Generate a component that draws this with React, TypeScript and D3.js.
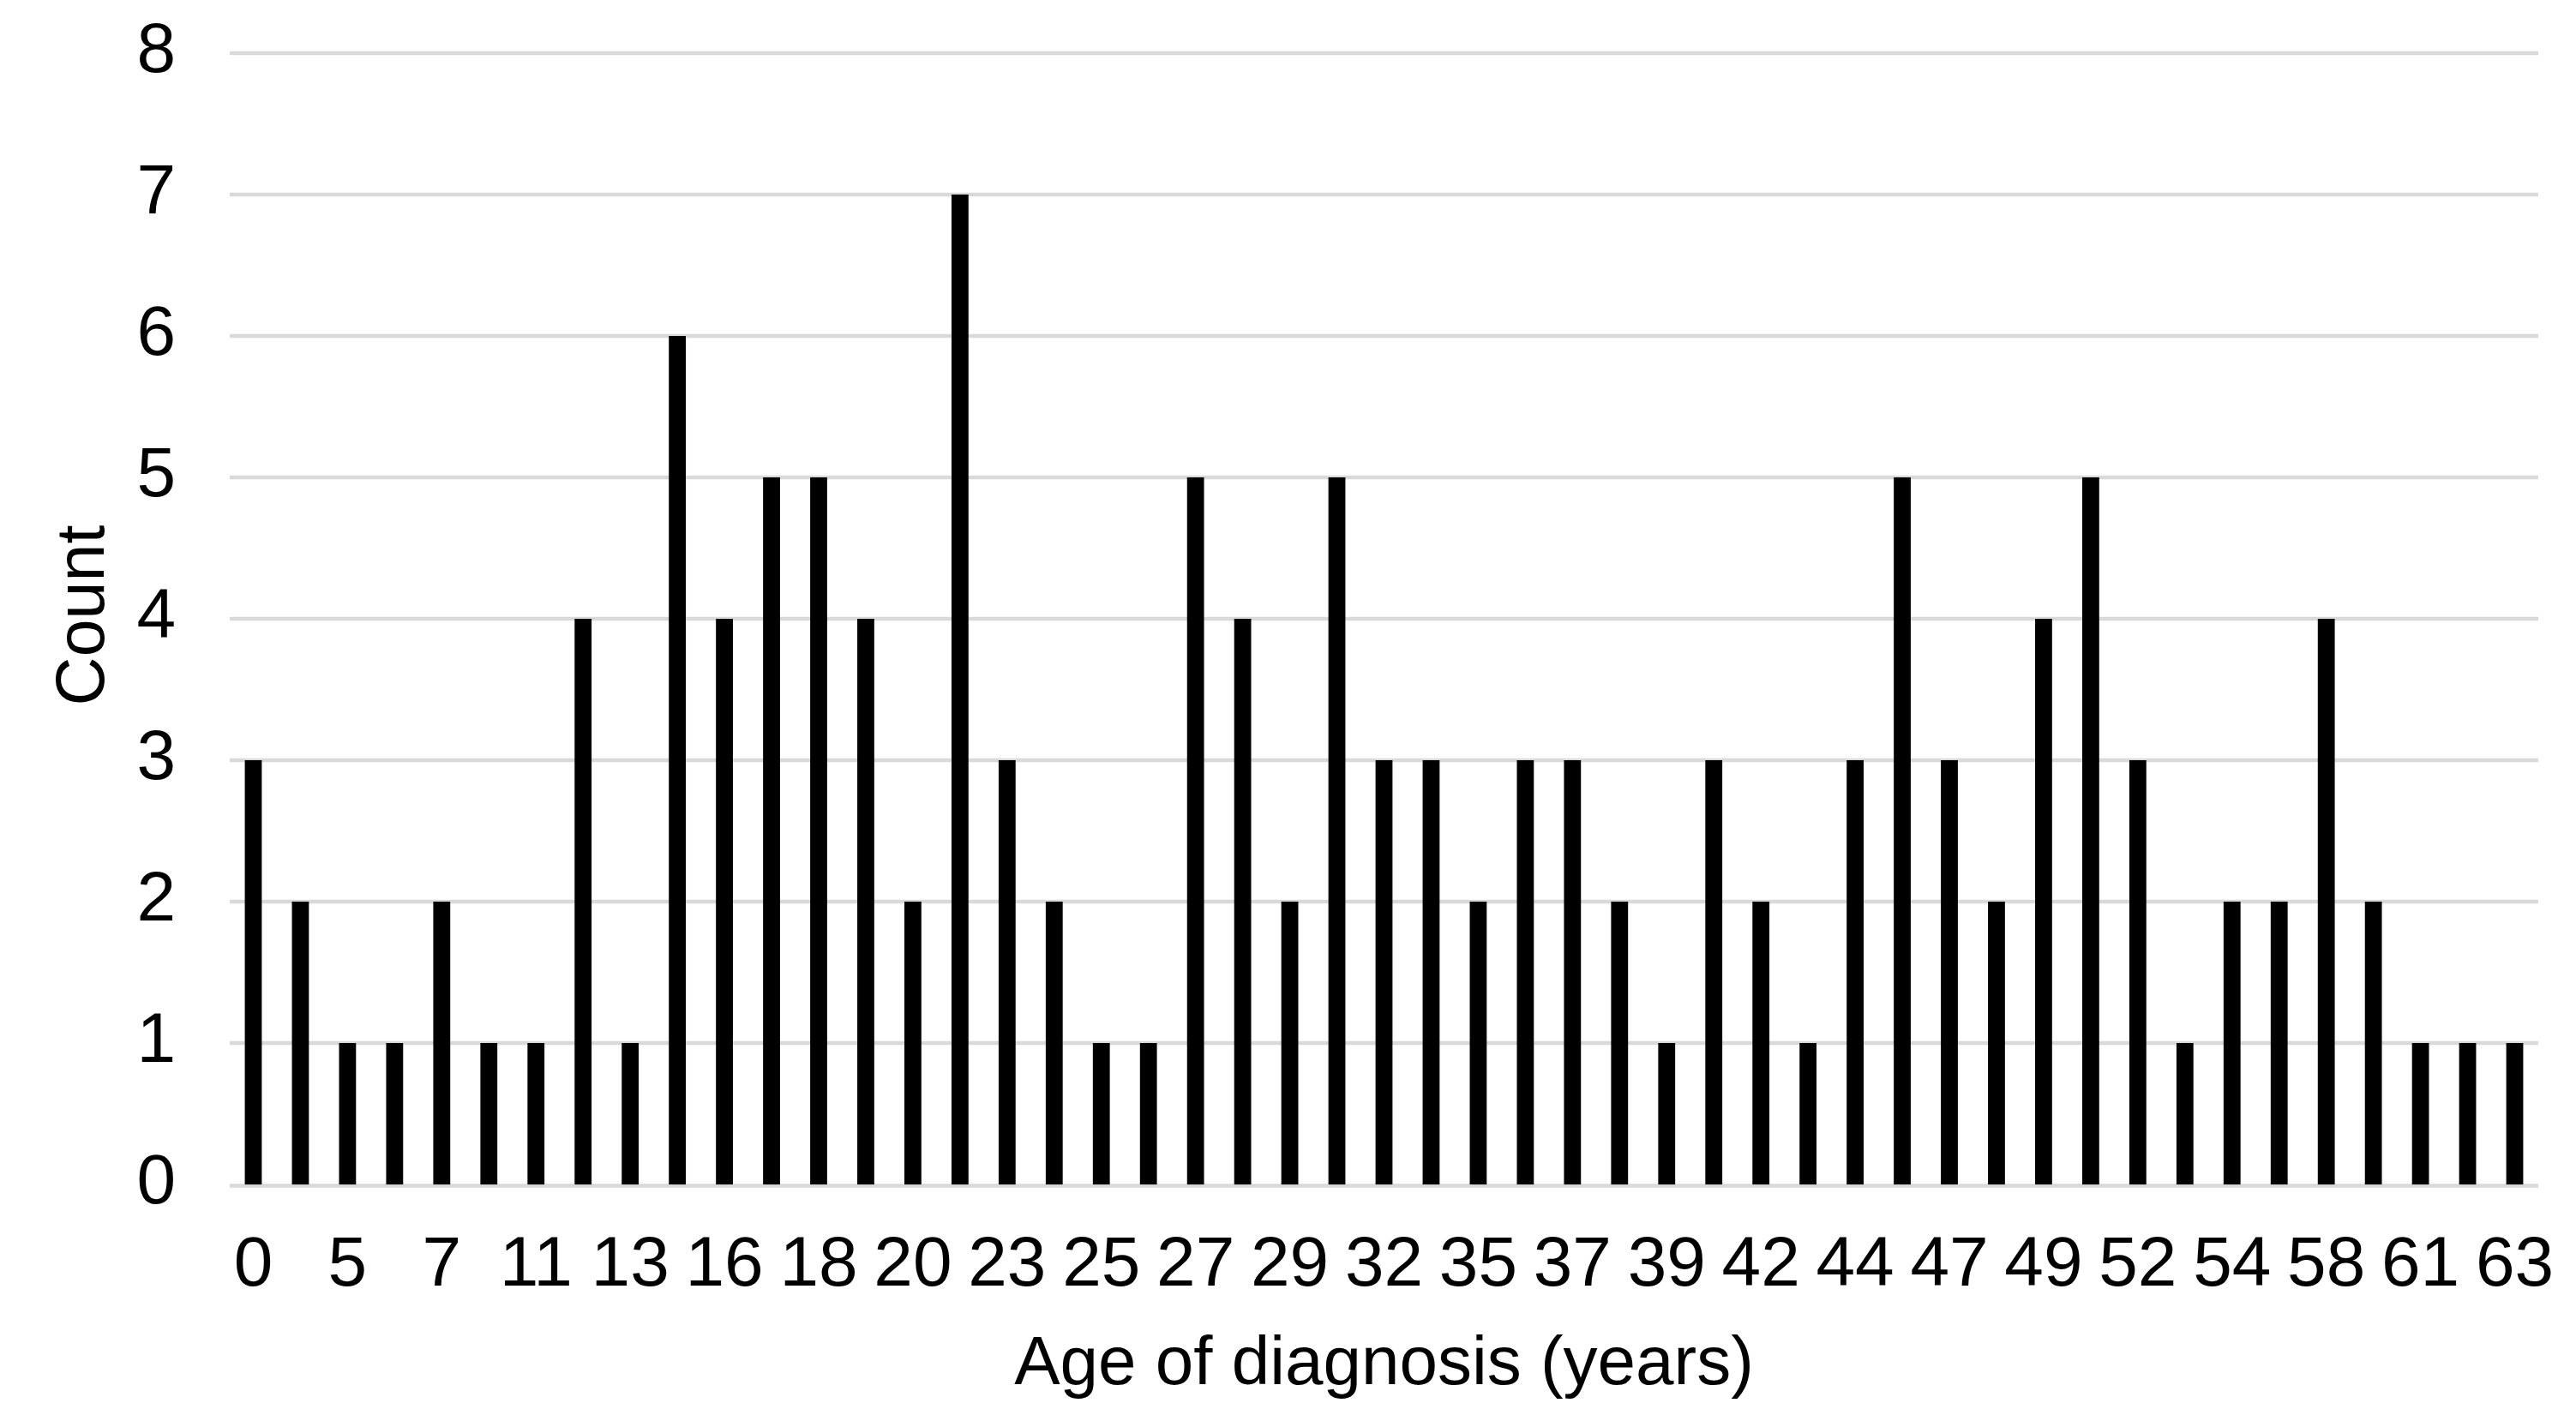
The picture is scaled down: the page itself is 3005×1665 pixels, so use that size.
import React from "react";
import * as d3 from "d3";

const ages: string[] = [
  "0", "3", "5", "6", "7", "9", "11", "12", "13", "15",
  "16", "17", "18", "19", "20", "21", "23", "24", "25", "26",
  "27", "28", "29", "30", "32", "33", "35", "36", "37", "38",
  "39", "40", "42", "43", "44", "45", "47", "48", "49", "50",
  "52", "53", "54", "56", "58", "59", "61", "62", "63",
];

const counts: number[] = [
  3, 2, 1, 1, 2, 1, 1, 4, 1, 6,
  4, 5, 5, 4, 2, 7, 3, 2, 1, 1,
  5, 4, 2, 5, 3, 3, 2, 3, 3, 2,
  1, 3, 2, 1, 3, 5, 3, 2, 4, 5,
  3, 1, 2, 2, 4, 2, 1, 1, 1,
];

const yTicks: number[] = [0, 1, 2, 3, 4, 5, 6, 7, 8];

const xTitle = "Age of diagnosis (years)";
const yTitle = "Count";

const W = 3005;
const H = 1665;
const left = 268;
const right = 2961;
const top = 62;
const bottom = 1382;
const FONT = "'Liberation Sans', Arial, sans-serif";
const FS = 82;

export default function App() {
  const x = d3
    .scaleBand<string>()
    .domain(ages)
    .range([left, right])
    .paddingInner(0.64)
    .paddingOuter(0.32);
  const y = d3.scaleLinear().domain([0, 8]).range([bottom, top]);

  return (
    <svg
      width={W}
      height={H}
      style={{ position: "absolute", left: 0, top: 0, display: "block", background: "#fff" }}
    >
      <rect x={0} y={0} width={W} height={H} fill="#fff" />
      {yTicks.map((t) => (
        <line
          key={"g" + t}
          x1={left}
          x2={right}
          y1={y(t) + (t === 0 ? 1.5 : 0)}
          y2={y(t) + (t === 0 ? 1.5 : 0)}
          stroke="#d9d9d9"
          strokeWidth={4.5}
        />
      ))}
      {yTicks.map((t) => (
        <text
          key={"yl" + t}
          x={205}
          y={y(t) + 22}
          textAnchor="end"
          fontFamily={FONT}
          fontSize={FS}
          fill="#000"
        >
          {t}
        </text>
      ))}
      {ages.map((a, i) => (
        <rect
          key={"b" + a}
          x={x(a) as number}
          y={y(counts[i])}
          width={x.bandwidth()}
          height={y(0) - y(counts[i])}
          fill="#000"
        />
      ))}
      {ages.map((a, i) =>
        i % 2 === 0 ? (
          <text
            key={"xl" + a}
            x={(x(a) as number) + x.bandwidth() / 2}
            y={1500}
            textAnchor="middle"
            fontFamily={FONT}
            fontSize={FS}
            fill="#000"
          >
            {a}
          </text>
        ) : null
      )}
      <text
        x={(left + right) / 2}
        y={1615}
        textAnchor="middle"
        fontFamily={FONT}
        fontSize={80}
        fill="#000"
      >
        {xTitle}
      </text>
      <text
        transform={`translate(121, ${(top + bottom) / 2 - 4}) rotate(-90)`}
        textAnchor="middle"
        fontFamily={FONT}
        fontSize={79}
        fill="#000"
      >
        {yTitle}
      </text>
    </svg>
  );
}
